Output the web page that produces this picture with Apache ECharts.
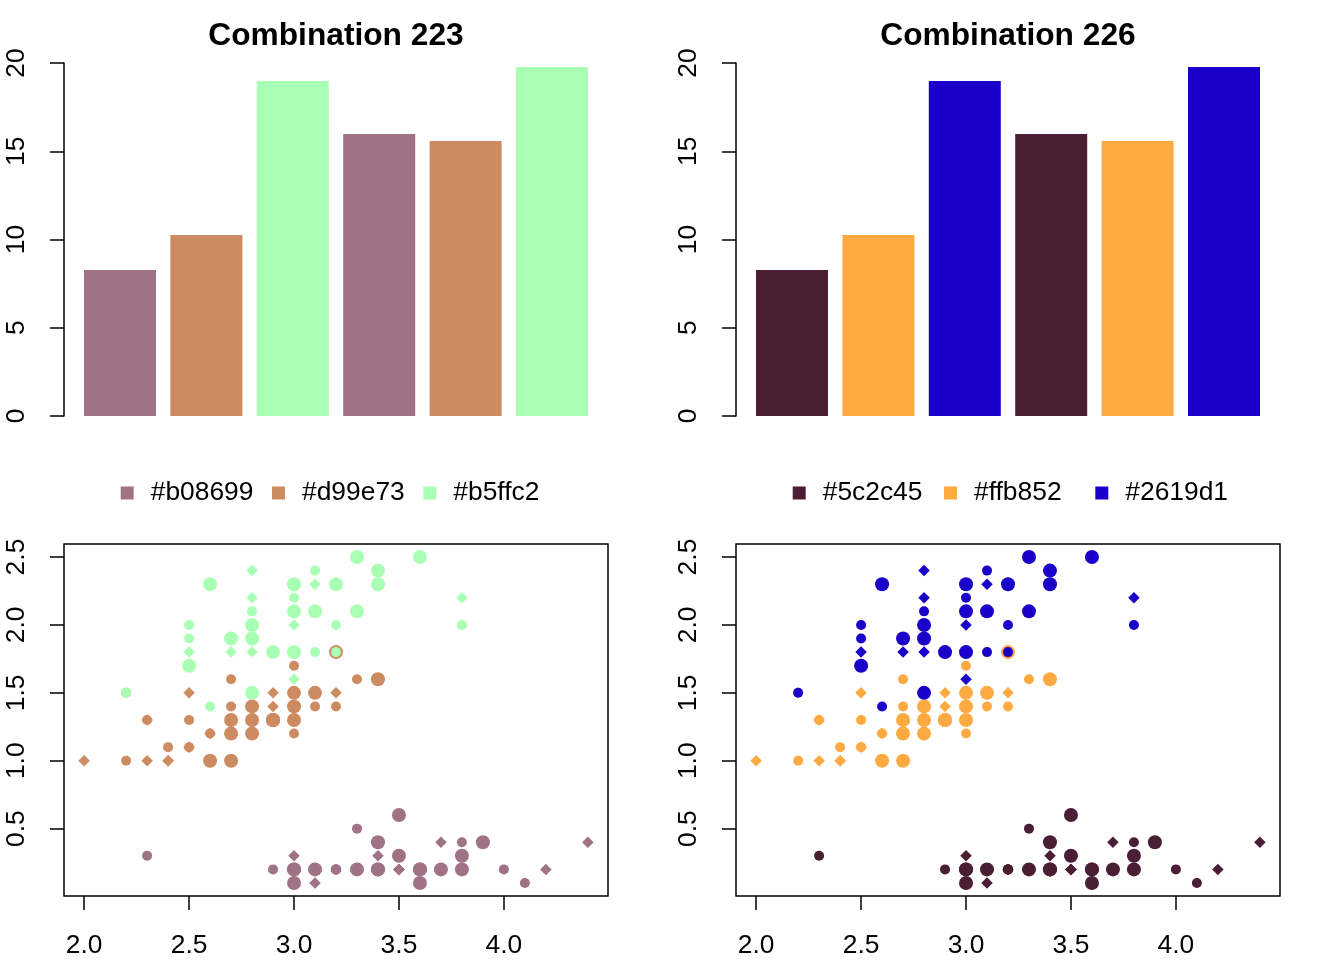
<!DOCTYPE html>
<html><head><meta charset="utf-8">
<script src="https://cdn.jsdelivr.net/npm/echarts@6/dist/echarts.min.js"></script>
<style>html,body{margin:0;padding:0;background:#fff}#c{width:1344px;height:960px}</style>
</head><body><div id="c"></div>
<script>
// ---- data ----
const barValues = [8.27, 10.25, 18.98, 15.98, 15.58, 19.77];
const barColorIndex = [0, 1, 2, 0, 1, 2];
const panelTitles = ['Combination 223', 'Combination 226'];
const legendLabels223 = ['#b08699', '#d99e73', '#b5ffc2'];
const legendLabels226 = ['#5c2c45', '#ffb852', '#2619d1'];
const drawColors223 = ['#9f7285', '#cd8b61', '#a9ffb4'];
const drawColors226 = ['#4a1f35', '#fdaa43', '#1a00c8'];
const yTicksBar = [0, 5, 10, 15, 20];
const xTicksScatter = [2.0, 2.5, 3.0, 3.5, 4.0];
const yTicksScatter = [0.5, 1.0, 1.5, 2.0, 2.5];

const sepalWidthSetosa = [3.5,3.0,3.2,3.1,3.6,3.9,3.4,3.4,2.9,3.1,3.7,3.4,3.0,3.0,4.0,4.4,3.9,3.5,3.8,3.8,3.4,3.7,3.6,3.3,3.4,3.0,3.4,3.5,3.4,3.2,3.1,3.4,4.1,4.2,3.1,3.2,3.5,3.6,3.0,3.4,3.5,2.3,3.2,3.5,3.8,3.0,3.8,3.2,3.7,3.3];
const petalWidthSetosa = [0.2,0.2,0.2,0.2,0.2,0.4,0.3,0.2,0.2,0.1,0.2,0.2,0.1,0.1,0.2,0.4,0.4,0.3,0.3,0.3,0.2,0.4,0.2,0.5,0.2,0.2,0.4,0.2,0.2,0.2,0.2,0.4,0.1,0.2,0.2,0.2,0.2,0.1,0.2,0.2,0.3,0.3,0.2,0.6,0.4,0.3,0.2,0.2,0.2,0.2];
const sepalWidthVersicolor = [3.2,3.2,3.1,2.3,2.8,2.8,3.3,2.4,2.9,2.7,2.0,3.0,2.2,2.9,2.9,3.1,3.0,2.7,2.2,2.5,3.2,2.8,2.5,2.8,2.9,3.0,2.8,3.0,2.9,2.6,2.4,2.4,2.7,2.7,3.0,3.4,3.1,2.3,3.0,2.5,2.6,3.0,2.6,2.3,2.7,3.0,2.9,2.9,2.5,2.8];
const petalWidthVersicolor = [1.4,1.5,1.5,1.3,1.5,1.3,1.6,1.0,1.3,1.4,1.0,1.5,1.0,1.4,1.3,1.4,1.5,1.0,1.5,1.1,1.8,1.3,1.5,1.2,1.3,1.4,1.4,1.7,1.5,1.0,1.1,1.0,1.2,1.6,1.5,1.6,1.5,1.3,1.3,1.3,1.2,1.4,1.2,1.0,1.3,1.2,1.3,1.3,1.1,1.3];
const sepalWidthVirginica = [3.3,2.7,3.0,2.9,3.0,3.0,2.5,2.9,2.5,3.6,3.2,2.7,3.0,2.5,2.8,3.2,3.0,3.8,2.6,2.2,3.2,2.8,2.8,2.7,3.3,3.2,2.8,3.0,2.8,3.0,2.8,3.8,2.8,2.8,2.6,3.0,3.4,3.1,3.0,3.1,3.1,3.1,2.7,3.2,3.3,3.0,2.5,3.0,3.4,3.0];
const petalWidthVirginica = [2.5,1.9,2.1,1.8,2.2,2.1,1.7,1.8,1.8,2.5,2.0,1.9,2.1,2.0,2.4,2.3,1.8,2.2,2.3,1.5,2.3,2.0,2.0,1.8,2.1,1.8,1.8,1.8,2.1,1.6,1.9,2.0,2.2,1.5,1.4,2.3,2.4,1.8,1.8,2.1,2.4,2.3,1.9,2.3,2.5,2.3,1.9,2.0,2.3,1.8];

// ---- styling ----
const FONT = '"Liberation Sans", Arial, Helvetica, sans-serif';
const AXIS_FS = 26.4, TITLE_FS = 31.7, LEGEND_FS = 26.4;
const LW = 1.5;
// point shape cycle (by row order): diamond, large circle, small circle
const shapeCycle = [
  {symbol: 'circle', size: 10},
  {symbol: 'diamond', size: 11.5},
  {symbol: 'circle', size: 14}
];
const legendItemLeft = [120.7, 272, 423.3];

const speciesSW = [sepalWidthSetosa, sepalWidthVersicolor, sepalWidthVirginica];
const speciesPW = [petalWidthSetosa, petalWidthVersicolor, petalWidthVirginica];

const panels = [
  {off: 0, title: panelTitles[0], labels: legendLabels223, colors: drawColors223},
  {off: 672, title: panelTitles[1], labels: legendLabels226, colors: drawColors226}
];

const grid = [], xAxis = [], yAxis = [], series = [], title = [], legend = [];

panels.forEach((p, pi) => {
  // bar grid
  const gBar = grid.length;
  grid.push({left: 76.8 + p.off, top: 63, width: 518.4, height: 353, containLabel: false});
  xAxis.push({type: 'category', gridIndex: gBar, data: barValues.map((v, i) => String(i + 1)), show: false});
  yAxis.push({type: 'value', gridIndex: gBar, min: 0, max: 20, interval: 5, offset: 12.8,
    splitLine: {show: false},
    axisLine: {show: true, lineStyle: {color: '#000', width: LW}},
    axisTick: {show: true, length: 14, lineStyle: {color: '#000', width: LW}},
    axisLabel: {rotate: 90, margin: 34, color: '#000', fontSize: AXIS_FS, fontFamily: FONT}
  });
  series.push({type: 'bar', xAxisIndex: gBar, yAxisIndex: gBar, barWidth: 72, silent: true,
    data: barValues.map((v, i) => ({value: v, itemStyle: {color: p.colors[barColorIndex[i]]}}))
  });
  title.push({text: p.title, left: 336 + p.off, top: 20, textAlign: 'center', padding: 0,
    textStyle: {fontSize: TITLE_FS, fontWeight: 'bold', color: '#000', fontFamily: FONT}});

  // scatter grid
  const gSc = grid.length;
  grid.push({left: 64 + p.off, top: 544, width: 544, height: 352, show: true,
    borderColor: '#000', borderWidth: LW, backgroundColor: 'transparent'});
  xAxis.push({type: 'value', gridIndex: gSc, min: 1.904, max: 4.496,
    splitLine: {show: false}, axisLine: {show: false},
    axisTick: {show: true, length: 14, customValues: xTicksScatter, lineStyle: {color: '#000', width: LW}},
    axisLabel: {customValues: xTicksScatter, margin: 37, color: '#000', fontSize: AXIS_FS, fontFamily: FONT,
      formatter: v => v.toFixed(1)}
  });
  yAxis.push({type: 'value', gridIndex: gSc, min: 0.004, max: 2.596,
    splitLine: {show: false}, axisLine: {show: false},
    axisTick: {show: true, length: 14, customValues: yTicksScatter, lineStyle: {color: '#000', width: LW}},
    axisLabel: {customValues: yTicksScatter, rotate: 90, margin: 34, color: '#000', fontSize: AXIS_FS, fontFamily: FONT,
      formatter: v => v.toFixed(1)}
  });
  let rowOffset = 0;
  for (let s = 0; s < 3; s++) {
    const sw = speciesSW[s], pw = speciesPW[s];
    const base = rowOffset;
    series.push({type: 'scatter', name: p.labels[s], xAxisIndex: gSc, yAxisIndex: gSc, silent: true,
      itemStyle: {color: p.colors[s], opacity: 1},
      data: sw.map((x, i) => {
        const sh = shapeCycle[(base + i + 1) % 3];
        return {value: [x, pw[i]], symbol: sh.symbol, symbolSize: sh.size};
      })
    });
    rowOffset += sw.length;
    legend.push({data: [{name: p.labels[s], icon: 'rect'}], left: legendItemLeft[s] + p.off, top: 480,
      orient: 'horizontal', itemWidth: 13, itemHeight: 13, padding: 0, selectedMode: false,
      textStyle: {fontSize: LEGEND_FS, fontFamily: FONT, color: '#000', padding: [0, 0, 0, 12]}
    });
  }
});

const chart = echarts.init(document.getElementById('c'), null, {renderer: 'canvas'});
chart.setOption({animation: false, backgroundColor: '#fff', title, legend, grid, xAxis, yAxis, series});
</script>
</body></html>
